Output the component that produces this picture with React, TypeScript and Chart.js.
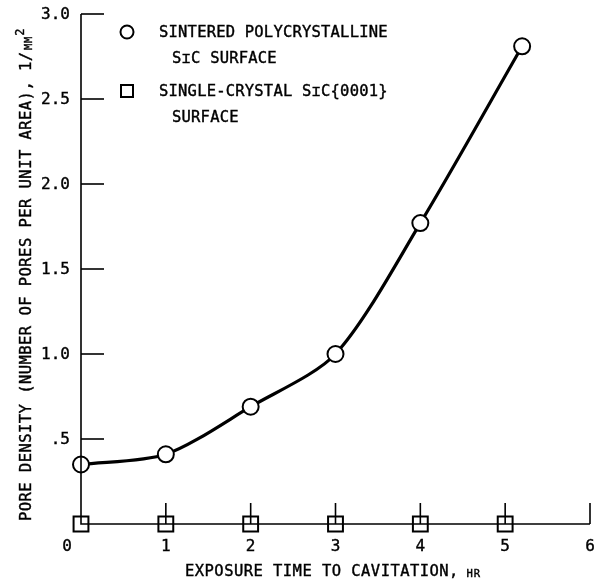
import React, { useEffect, useRef } from "react";
import { Chart, registerables } from "chart.js";

Chart.register(...registerables);

// ---- data ----
const HOURS_SINTERED = [0, 1, 2, 3, 4, 5.2];
const SINTERED_DENSITY = [0.35, 0.41, 0.69, 1.0, 1.77, 2.81];
const HOURS_SINGLE = [0, 1, 2, 3, 4, 5];
const SINGLE_DENSITY = [0, 0, 0, 0, 0, 0];
const X_TICKS = [0, 1, 2, 3, 4, 5, 6];
const X_TICK_LABELS = ["0", "1", "2", "3", "4", "5", "6"];
const Y_TICKS = [0.5, 1.0, 1.5, 2.0, 2.5, 3.0];
const Y_TICK_LABELS = [".5", "1.0", "1.5", "2.0", "2.5", "3.0"];
const LEGEND_SINTERED = ["SINTERED POLYCRYSTALLINE", "SɪC SURFACE"];
const LEGEND_SINGLE = ["SINGLE-CRYSTAL SɪC{0001}", "SURFACE"];
const X_TITLE = "EXPOSURE TIME TO CAVITATION,";
const X_TITLE_UNIT = "HR";
const Y_TITLE = "PORE DENSITY (NUMBER OF PORES PER UNIT AREA), 1/";
const Y_TITLE_UNIT = "MM";

const FONT = '"DejaVu Sans Mono", monospace';

function txt(
  ctx: CanvasRenderingContext2D,
  s: string,
  x: number,
  y: number,
  size: number,
  align: CanvasTextAlign = "left",
  spacing = 0.4
) {
  ctx.save();
  ctx.font = `${size}px ${FONT}`;
  (ctx as any).letterSpacing = `${spacing}px`;
  ctx.fillStyle = "#000";
  ctx.strokeStyle = "#000";
  ctx.lineWidth = 0.4;
  ctx.textBaseline = "middle";
  ctx.textAlign = "left";
  const w = ctx.measureText(s).width - spacing;
  let sx = x;
  if (align === "center") sx = x - w / 2;
  else if (align === "right") sx = x - w;
  ctx.fillText(s, sx, y);
  ctx.strokeText(s, sx, y);
  ctx.restore();
  return w;
}

const decor = {
  id: "decor",
  afterDatasetsDraw(chart: any) {
    const { ctx } = chart;
    const xs = chart.scales.x;
    const ys = chart.scales.y;
    const x0 = xs.getPixelForValue(0);
    const y0 = ys.getPixelForValue(0);
    const yTop = ys.getPixelForValue(3);
    const xEnd = xs.getPixelForValue(6);
    ctx.save();
    ctx.strokeStyle = "#000";
    ctx.lineWidth = 1.6;
    ctx.beginPath();
    ctx.moveTo(x0, yTop);
    ctx.lineTo(x0, y0);
    ctx.lineTo(xEnd, y0);
    ctx.stroke();
    Y_TICKS.forEach((v) => {
      const py = ys.getPixelForValue(v);
      ctx.beginPath();
      ctx.moveTo(x0, py);
      ctx.lineTo(x0 + 23, py);
      ctx.stroke();
    });
    X_TICKS.forEach((v) => {
      if (v === 0) return;
      const px = xs.getPixelForValue(v);
      ctx.beginPath();
      ctx.moveTo(px, y0);
      ctx.lineTo(px, y0 - 21);
      ctx.stroke();
    });
    ctx.restore();

    Y_TICKS.forEach((v, i) => {
      txt(ctx, Y_TICK_LABELS[i], 70, ys.getPixelForValue(v) + 1, 16, "right", 0);
    });
    X_TICKS.forEach((v, i) => {
      let px = xs.getPixelForValue(v);
      if (v === 0) px -= 14;
      txt(ctx, X_TICK_LABELS[i], px, y0 + 23, 16, "center", 0);
    });

    const w = txt(ctx, X_TITLE, 185, 572, 15.5, "left", 0.45);
    txt(ctx, X_TITLE_UNIT, 185 + w + 8, 574, 10.5, "left", 1);

    ctx.save();
    ctx.translate(27, 521);
    ctx.rotate(-Math.PI / 2);
    const wy = txt(ctx, Y_TITLE, 0, 0, 15.5, "left", 0.45);
    const wm = txt(ctx, Y_TITLE_UNIT, wy + 2, 2, 10.5, "left", 0.5);
    txt(ctx, "2", wy + 2 + wm + 1, -6, 12, "left", 0);
    ctx.restore();

    ctx.save();
    ctx.strokeStyle = "#000";
    ctx.lineWidth = 2;
    ctx.fillStyle = "#fff";
    ctx.beginPath();
    ctx.arc(127, 32, 6.5, 0, Math.PI * 2);
    ctx.fill();
    ctx.stroke();
    ctx.strokeRect(121, 85, 12, 12);
    ctx.restore();
    txt(ctx, LEGEND_SINTERED[0], 159, 33, 15.5, "left", 0.2);
    txt(ctx, LEGEND_SINTERED[1], 172, 59, 15.5, "left", 0.2);
    txt(ctx, LEGEND_SINGLE[0], 159, 92, 15.5, "left", 0.2);
    txt(ctx, LEGEND_SINGLE[1], 172, 118, 15.5, "left", 0.2);
  },
};

export default function App() {
  const ref = useRef<HTMLCanvasElement>(null);
  useEffect(() => {
    const prevMargin = document.body.style.margin;
    document.body.style.margin = "0";
    const chart = new Chart(ref.current as HTMLCanvasElement, {
      type: "line",
      data: {
        datasets: [
          {
            label: "Sintered polycrystalline SiC surface",
            data: HOURS_SINTERED.map((x, i) => ({ x, y: SINTERED_DENSITY[i] })),
            borderColor: "#000",
            borderWidth: 3.2,
            tension: 0.28,
            pointStyle: "circle",
            pointRadius: 8,
            pointBorderWidth: 2,
            pointBackgroundColor: "#fff",
            pointBorderColor: "#000",
            clip: false as any,
          },
          {
            label: "Single-crystal SiC{0001} surface",
            data: HOURS_SINGLE.map((x, i) => ({ x, y: SINGLE_DENSITY[i] })),
            showLine: false,
            pointStyle: "rect",
            pointRadius: 10.5,
            pointBorderWidth: 2,
            pointBackgroundColor: "rgba(0,0,0,0)",
            pointBorderColor: "#000",
            clip: false as any,
          },
        ],
      },
      options: {
        animation: false,
        responsive: false,
        layout: { autoPadding: false, padding: { left: 81, right: 4, top: 14, bottom: 59 } },
        plugins: { legend: { display: false }, tooltip: { enabled: false } },
        scales: {
          x: { type: "linear", min: 0, max: 6, display: false },
          y: { type: "linear", min: 0, max: 3, display: false },
        },
      },
      plugins: [decor],
    });
    return () => {
      chart.destroy();
      document.body.style.margin = prevMargin;
    };
  }, []);
  return (
    <div style={{ position: "absolute", left: 0, top: 0, width: 594, height: 583, background: "#fff" }}>
      <canvas ref={ref} width={594} height={583} style={{ display: "block" }} />
    </div>
  );
}
